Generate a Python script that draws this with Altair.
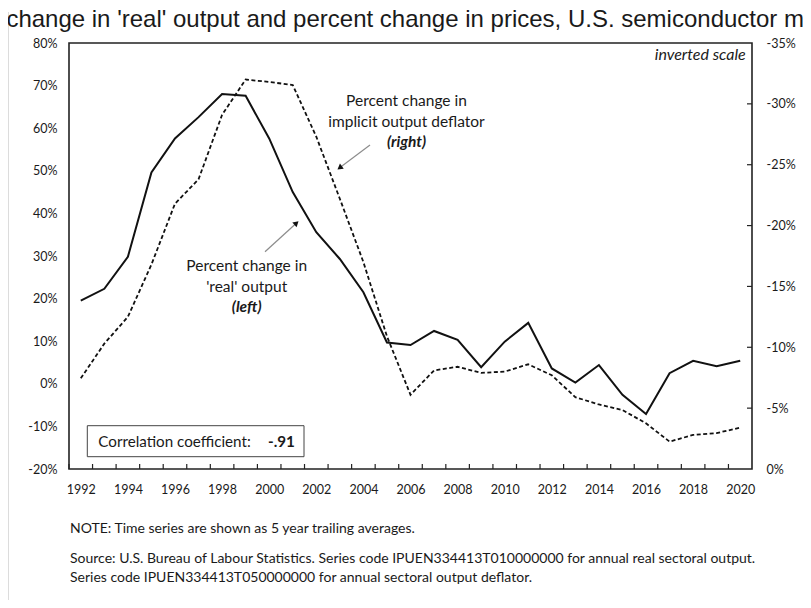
import altair as alt
import pandas as pd

# ---------------- data ----------------
years = list(range(1992, 2021))
real_output = [19.5, 22.3, 29.8, 49.6, 57.6, 62.6, 68.0, 67.6, 57.6, 45.0,
               35.6, 29.3, 21.5, 9.7, 9.1, 12.4, 10.3, 3.9, 9.9, 14.3,
               3.6, 0.3, 4.4, -2.6, -7.1, 2.5, 5.4, 4.1, 5.4]
deflator = [-7.45, -10.3, -12.5, -16.8, -21.8, -23.8, -29.1, -32.0, -31.8, -31.55,
            -27.3, -22.2, -17.0, -10.9, -6.1, -8.1, -8.4, -7.9, -8.0, -8.6,
            -7.7, -5.9, -5.3, -4.85, -3.75, -2.25, -2.8, -2.95, -3.4]
left_ticks = [-20, -10, 0, 10, 20, 30, 40, 50, 60, 70, 80]
right_ticks = [-35, -30, -25, -20, -15, -10, -5, 0]
year_labels = list(range(1992, 2021, 2))

title_text = "Percent change in 'real' output and percent change in prices, U.S. semiconductor manufacturing"
note_text = "NOTE: Time series are shown as 5 year trailing averages."
source_1 = "Source: U.S. Bureau of Labour Statistics. Series code IPUEN334413T010000000 for annual real sectoral output."
source_2 = "Series code IPUEN334413T050000000 for annual sectoral output deflator."

df = pd.DataFrame({"year": years, "real": real_output, "defl": deflator})

FONT = "Lato"
W, H = 683, 426
INK = "#1a1a1a"

xscale = alt.Scale(domain=[1991.5, 2020.5], nice=False, zero=False)
lscale = alt.Scale(domain=[-20, 80], nice=False, zero=False)
rscale = alt.Scale(domain=[-35, 0], reverse=True, nice=False, zero=False)

xaxis = alt.Axis(values=year_labels, format="d", tickSize=0, domain=False,
                 grid=False, labelPadding=14, labelFont=FONT,
                 labelFontSize=12.5, labelColor=INK, title=None)
laxis = alt.Axis(orient="left", values=left_ticks,
                 labelExpr="datum.value + '%'", tickSize=0, domain=False,
                 grid=False, labelPadding=12, labelFont=FONT,
                 labelFontSize=12.5, labelColor=INK, title=None)
raxis = alt.Axis(orient="right", values=right_ticks,
                 labelExpr="datum.value + '%'", tickSize=0, domain=False,
                 grid=False, labelPadding=14, labelFont=FONT,
                 labelFontSize=12.5, labelColor=INK, title=None)


def one():
    return alt.Chart(alt.Data(values=[{}]))


base = alt.Chart(df)

solid = base.mark_line(color="#111111", strokeWidth=2).encode(
    x=alt.X("year:Q", scale=xscale, axis=xaxis),
    y=alt.Y("real:Q", scale=lscale, axis=laxis),
)

xticks = base.transform_calculate(b="datum.year - 0.5").mark_rule(
    color="#222222", strokeWidth=1.2
).encode(
    x=alt.X("b:Q", scale=xscale, axis=xaxis),
    y=alt.value(H), y2=alt.value(H - 5),
)

left_layer = alt.layer(solid, xticks)

dashed = base.mark_line(color="#111111", strokeWidth=1.8, strokeDash=[4, 2.5]).encode(
    x=alt.X("year:Q", scale=xscale, axis=xaxis),
    y=alt.Y("defl:Q", scale=rscale, axis=raxis),
)

rticks = alt.Chart(pd.DataFrame({"t": right_ticks[1:-1]})).mark_rule(
    color="#222222", strokeWidth=1.2
).encode(
    y=alt.Y("t:Q", scale=rscale, axis=raxis),
    x=alt.value(W - 5), x2=alt.value(W),
)

right_layer = alt.layer(dashed, rticks)

# ---------------- annotations ----------------
AFS = 15.5
ann1 = one().mark_text(font=FONT, fontSize=AFS, color=INK, align="center",
                       baseline="middle", lineHeight=21).encode(
    x=alt.value(337.5), y=alt.value(57.7),
    text=alt.value(["Percent change in", "implicit output deflator"]))
ann1b = one().mark_text(font=FONT, fontSize=AFS, color=INK, align="center",
                        baseline="middle", fontWeight="bold", fontStyle="italic").encode(
    x=alt.value(337.5), y=alt.value(98.7), text=alt.value("(right)"))

ann2 = one().mark_text(font=FONT, fontSize=AFS, color=INK, align="center",
                       baseline="middle", lineHeight=20.7).encode(
    x=alt.value(177.7), y=alt.value(223),
    text=alt.value(["Percent change in", "'real' output"]))
ann2b = one().mark_text(font=FONT, fontSize=AFS, color=INK, align="center",
                        baseline="middle", fontWeight="bold", fontStyle="italic").encode(
    x=alt.value(177.7), y=alt.value(263.7), text=alt.value("(left)"))

arrow1 = one().mark_rule(color="#8c8c8c", strokeWidth=1.2).encode(
    x=alt.value(301), y=alt.value(102), x2=alt.value(271), y2=alt.value(124.5))
head1 = one().mark_point(shape="triangle", filled=True, size=40, angle=233,
                         color="#111111", opacity=1).encode(
    x=alt.value(271.4), y=alt.value(124.2))

arrow2 = one().mark_rule(color="#8c8c8c", strokeWidth=1.2).encode(
    x=alt.value(196), y=alt.value(208.7), x2=alt.value(227), y2=alt.value(180.5))
head2 = one().mark_point(shape="triangle", filled=True, size=40, angle=48,
                         color="#111111", opacity=1).encode(
    x=alt.value(226.8), y=alt.value(180.7))

inv = one().mark_text(font=FONT, fontSize=16, fontStyle="italic", color=INK,
                      align="right", baseline="middle").encode(
    x=alt.value(676.7), y=alt.value(12), text=alt.value("inverted scale"))

box = one().mark_rect(fill="white", stroke="#444444", strokeWidth=1).encode(
    x=alt.value(18.3), x2=alt.value(235), y=alt.value(382.7), y2=alt.value(413.7))
corr = one().mark_text(font=FONT, fontSize=15.2, color=INK, align="left",
                       baseline="middle").encode(
    x=alt.value(29.3), y=alt.value(398.7), text=alt.value("Correlation coefficient:"))
corr_v = one().mark_text(font=FONT, fontSize=15.2, color=INK, align="left",
                         baseline="middle", fontWeight="bold").encode(
    x=alt.value(199), y=alt.value(398.7), text=alt.value("-.91"))

note = one().mark_text(font=FONT, fontSize=14, color=INK, align="left",
                       baseline="middle").encode(
    x=alt.value(1), y=alt.value(486), text=alt.value(note_text))
src = one().mark_text(font=FONT, fontSize=14, color=INK, align="left",
                      baseline="middle", lineHeight=19).encode(
    x=alt.value(1), y=alt.value(516), text=alt.value([source_1, source_2]))

title = one().mark_text(font="Liberation Sans", fontSize=24, color=INK, align="left",
                        baseline="alphabetic").encode(
    x=alt.value(-152), y=alt.value(-16), text=alt.value(title_text))

border_left = one().mark_rule(color="#dcdcdc", strokeWidth=1).encode(
    x=alt.value(-60.5), y=alt.value(-31), y2=alt.value(H + 131))

chart = alt.layer(
    left_layer, right_layer,
    border_left, title,
    ann1, ann1b, ann2, ann2b, arrow1, head1, arrow2, head2,
    inv, box, corr, corr_v, note, src,
).resolve_scale(y="independent").properties(
    width=W, height=H,
    padding={"left": 61, "top": 35, "right": 51, "bottom": 131},
    autosize=alt.AutoSizeParams(type="none"),
    background="white",
).configure_view(stroke="#222222", strokeWidth=1.6)

chart.save("out.html", embed_options={"renderer": "svg", "actions": False})
